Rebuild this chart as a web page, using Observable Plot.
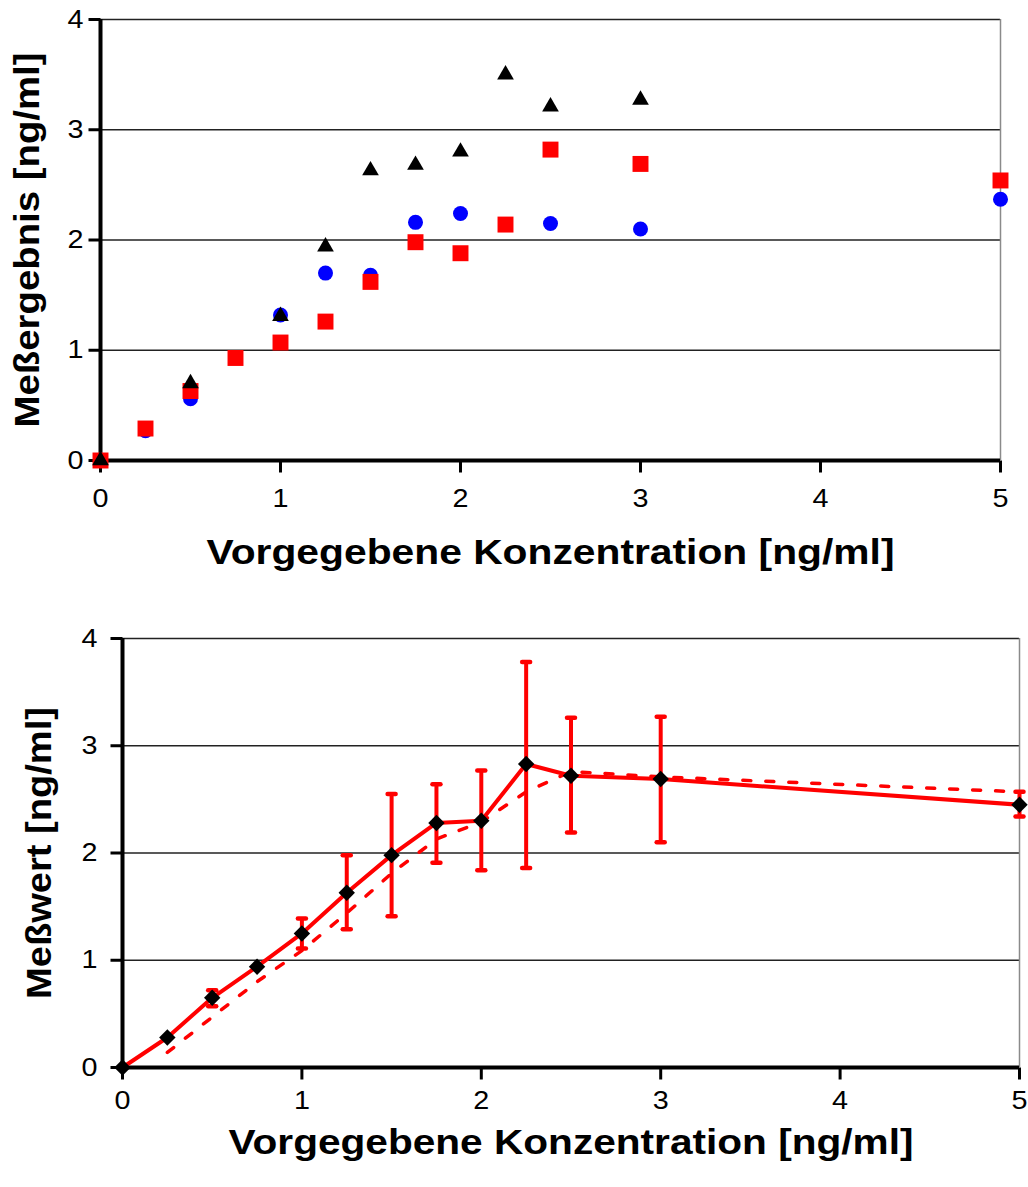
<!DOCTYPE html>
<html>
<head>
<meta charset="utf-8">
<script src="https://cdn.jsdelivr.net/npm/d3@7"></script>
<script src="https://cdn.jsdelivr.net/npm/@observablehq/plot@0.6"></script>
<style>
  html, body { margin: 0; padding: 0; background: #fff; }
  #top, #bottom { width: 1028px; display: block; }
  svg { display: block; }
</style>
</head>
<body>
<div id="top"></div>
<div id="bottom"></div>
<script>
// ---------- data ----------
const conc = [0, 0.25, 0.5, 0.75, 1, 1.25, 1.5, 1.75, 2, 2.25, 2.5, 3, 5];

// top chart: three measurement series
const seriesCircle   = [0, 0.27, 0.56, null, 1.32, 1.70, 1.68, 2.16, 2.24, null, 2.15, 2.10, 2.37];
const seriesSquare   = [0, 0.29, 0.63, 0.93, 1.07, 1.26, 1.62, 1.98, 1.88, 2.14, 2.82, 2.69, 2.54];
const seriesTriangle = [0, null, 0.70, null, 1.31, 1.94, 2.63, 2.68, 2.80, 3.50, 3.21, 3.27, null];

// bottom chart: mean values, error bars, moving-average trend (as read)
const meanValues  = [0, 0.28, 0.65, 0.94, 1.25, 1.63, 1.98, 2.28, 2.30, 2.83, 2.72, 2.69, 2.45];
const errLow      = [null, null, 0.57, null, 1.11, 1.29, 1.41, 1.91, 1.84, 1.86, 2.19, 2.10, 2.34];
const errHigh     = [null, null, 0.72, null, 1.39, 1.98, 2.55, 2.64, 2.77, 3.78, 3.26, 3.27, 2.57];
const trendValues = [null, 0.14, 0.47, 0.80, 1.09, 1.44, 1.81, 2.13, 2.29, 2.57, 2.76, 2.71, 2.57];

const xTicks = [0, 1, 2, 3, 4, 5];
const yTicks = [0, 1, 2, 3, 4];
const gridLines = [1, 2, 3, 4];

const xTitle = "Vorgegebene Konzentration [ng/ml]";
const yTitleTop = "Meßergebnis [ng/ml]";
const yTitleBottom = "Meßwert [ng/ml]";

// ---------- helpers ----------
const rows = arr => conc.map((x, i) => ({x, y: arr[i]})).filter(d => d.y != null);
const errRows = conc.map((x, i) => ({x, lo: errLow[i], hi: errHigh[i]})).filter(d => d.lo != null);
const capSymbol = { draw(ctx) { ctx.moveTo(-4, 0); ctx.lineTo(4, 0); } };
const yTickSymbol = { draw(ctx) { ctx.moveTo(-12, 0); ctx.lineTo(0, 0); } };
const xTickSymbol = { draw(ctx) { ctx.moveTo(0, 0); ctx.lineTo(0, 12); } };

const FONT = "Liberation Sans, Arial, Helvetica, sans-serif";

function frameMarks(yLabelDx, xLabelDy, xTickPad, yTickPad, yTitle) {
  return [
    Plot.ruleY(gridLines, {stroke: "#222", strokeWidth: 1.3}),
    Plot.ruleX([5], {stroke: "#8a8a8a", strokeWidth: 1.5}),
    Plot.axisY(yTicks, {tickSize: 0, tickPadding: yTickPad, fontSize: 25, fontFamily: FONT, tickFormat: d3.format("d"), label: null}),
    Plot.axisX(xTicks, {tickSize: 0, tickPadding: xTickPad, fontSize: 25, fontFamily: FONT, tickFormat: d3.format("d"), label: null}),
    Plot.dot(yTicks, {x: 0, y: d => d, symbol: yTickSymbol, stroke: "#000", fill: "none", strokeWidth: 3}),
    Plot.dot(xTicks, {x: d => d, y: 0, symbol: xTickSymbol, stroke: "#000", fill: "none", strokeWidth: 3}),
    Plot.ruleX([0], {strokeWidth: 4, stroke: "#000"}),
    Plot.ruleY([0], {strokeWidth: 4, stroke: "#000"}),
    Plot.text([xTitle], {frameAnchor: "bottom", dy: xLabelDy, lineAnchor: "bottom", textAnchor: "middle", fontSize: 35, fontWeight: "bold", fontFamily: FONT, text: d => d}),
    Plot.text([yTitle], {frameAnchor: "left", dx: yLabelDx, rotate: -90, lineAnchor: "bottom", textAnchor: "middle", fontSize: 35, fontWeight: "bold", fontFamily: FONT, text: d => d})
  ];
}

// ---------- top chart ----------
const topPlot = Plot.plot({
  width: 1028, height: 600,
  marginLeft: 100, marginRight: 28, marginTop: 19, marginBottom: 140,
  x: {domain: [0, 5]},
  y: {domain: [0, 4]},
  style: {fontFamily: FONT, color: "#000", background: "#fff"},
  marks: [
    ...frameMarks(-62, 103, 29, 17, yTitleTop),
    Plot.dot(rows(seriesCircle), {x: "x", y: "y", symbol: "circle", r: 7.5, fill: "#0000ff"}),
    Plot.dot(rows(seriesSquare), {x: "x", y: "y", symbol: "square", r: 9, fill: "#ff0000"}),
    Plot.dot(rows(seriesTriangle), {x: "x", y: "y", symbol: "triangle", r: 6.2, fill: "#000"})
  ]
});
document.getElementById("top").appendChild(topPlot);

// ---------- bottom chart ----------
const bottomPlot = Plot.plot({
  width: 1028, height: 587,
  marginLeft: 122, marginRight: 9, marginTop: 38, marginBottom: 120,
  x: {domain: [0, 5]},
  y: {domain: [0, 4]},
  style: {fontFamily: FONT, color: "#000", background: "#fff"},
  marks: [
    ...frameMarks(-72, 86, 24, 25, yTitleBottom),
    Plot.line(rows(trendValues), {x: "x", y: "y", stroke: "#ff0000", strokeWidth: 3.5, strokeDasharray: "8,15"}),
    Plot.ruleX(errRows, {x: "x", y1: "lo", y2: "hi", stroke: "#ff0000", strokeWidth: 4}),
    Plot.dot(errRows, {x: "x", y: "lo", symbol: capSymbol, fill: "none", stroke: "#ff0000", strokeWidth: 4.5, strokeLinecap: "round"}),
    Plot.dot(errRows, {x: "x", y: "hi", symbol: capSymbol, fill: "none", stroke: "#ff0000", strokeWidth: 4.5, strokeLinecap: "round"}),
    Plot.line(rows(meanValues), {x: "x", y: "y", stroke: "#ff0000", strokeWidth: 4}),
    Plot.dot(rows(meanValues), {x: "x", y: "y", symbol: "diamond2", r: 7.4, fill: "#000"})
  ]
});
document.getElementById("bottom").appendChild(bottomPlot);

// tick label size and title widths as seen in the reference
function styleTicks(svg) {
  d3.select(svg).selectAll('g[aria-label$="tick label"] text')
    .attr("font-size", 25).style("font-size", "25px").style("font-family", FONT)
    .attr("textLength", 16).attr("lengthAdjust", "spacingAndGlyphs");
}
styleTicks(topPlot);
styleTicks(bottomPlot);
function fitText(svg, str, len) {
  d3.select(svg).selectAll("text").filter(function() { return this.textContent === str; })
    .attr("textLength", len).attr("lengthAdjust", "spacingAndGlyphs");
}
fitText(topPlot, xTitle, 688);
fitText(topPlot, yTitleTop, 375);
fitText(bottomPlot, xTitle, 685);
fitText(bottomPlot, yTitleBottom, 292);
</script>
</body>
</html>
